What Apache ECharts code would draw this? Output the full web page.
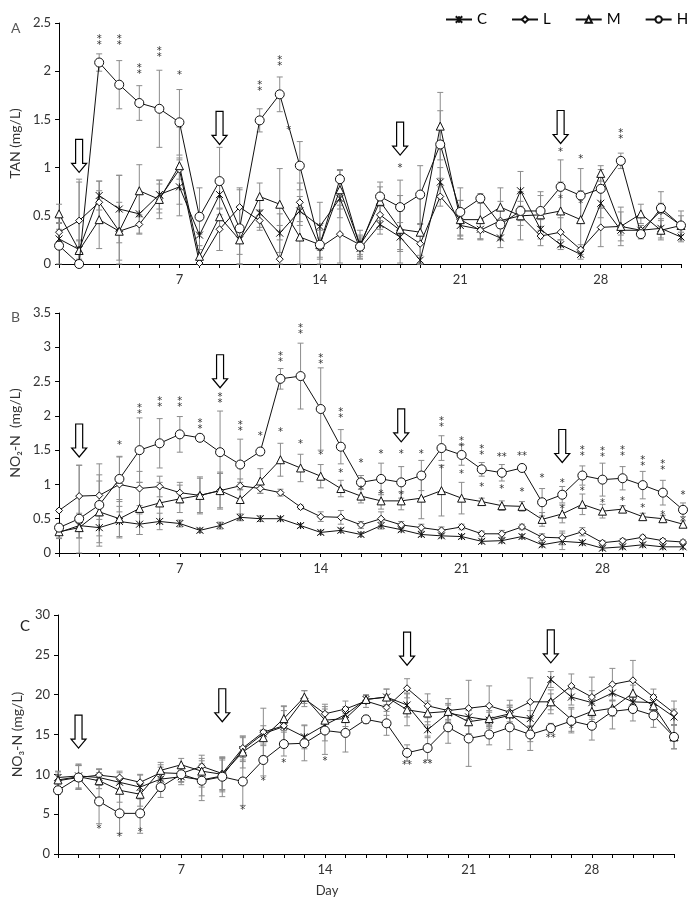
<!DOCTYPE html>
<html><head><meta charset="utf-8">
<script src="https://cdn.jsdelivr.net/npm/echarts@6/dist/echarts.min.js"></script>
<style>html,body{margin:0;padding:0;background:#fff}#c{width:690px;height:900px}</style>
</head><body><div id="c"></div>
<script>
// ---------- categories / tick labels ----------
const daysAB = ['1','2','3','4','5','6','7','8','9','10','11','12','13','14','15','16','17','18','19','20','21','22','23','24','25','26','27','28','29','30','31','32'];
const daysC  = ['1','2','3','4','5','6','7','8','9','10','11','12','13','14','15','16','17','18','19','20','21','23','24','25','26','27','28','29','30','31','32'];
const tickLabels = ['7','14','21','28'];
const seriesNames = ['C','L','M','H'];

// ---------- Panel A: TAN (mg/L) ----------
const tanC = [0.26,0.15,0.71,0.57,0.52,0.72,0.80,0.30,0.72,0.25,0.53,0.32,0.55,0.39,0.68,0.16,0.41,0.28,0.04,0.85,0.40,0.36,0.27,0.76,0.36,0.20,0.10,0.63,0.35,0.35,0.37,0.28];
const tanL = [0.33,0.45,0.64,0.34,0.41,0.68,0.98,0.01,0.36,0.59,0.45,0.05,0.64,0.17,0.31,0.20,0.51,0.35,0.21,0.70,0.46,0.35,0.45,0.50,0.29,0.33,0.15,0.38,0.39,0.35,0.55,0.40];
const tanM = [0.52,0.14,0.46,0.34,0.76,0.67,1.02,0.08,0.49,0.25,0.70,0.62,0.28,0.20,0.77,0.20,0.65,0.36,0.33,1.43,0.46,0.46,0.59,0.50,0.51,0.55,0.46,0.94,0.39,0.52,0.35,0.40];
const tanH = [0.19,0.00,2.09,1.86,1.67,1.61,1.47,0.49,0.86,0.37,1.49,1.76,1.02,0.20,0.88,0.18,0.70,0.59,0.72,1.24,0.54,0.68,0.41,0.55,0.55,0.80,0.71,0.78,1.07,0.31,0.58,0.40];
const tanCerr = [0.10,0.10,0.15,0.35,0.20,0.15,0.30,0.15,0.15,0.15,0.15,0.20,0.15,0.25,0.20,0.10,0.10,0.15,0.05,0.15,0.10,0.10,0.10,0.20,0.10,0.05,0.05,0.15,0.05,0.05,0.10,0.05];
const tanLerr = [0.10,0.43,0.22,0.30,0.10,0.15,0.10,0.30,0.22,0.20,0.10,0.35,0.20,0.10,0.30,0.15,0.15,0.20,0.20,0.10,0.20,0.10,0.20,0.10,0.10,0.15,0.05,0.20,0.20,0.05,0.20,0.10];
const tanMerr = [0.10,0.10,0.30,0.58,0.27,0.20,0.40,0.40,0.35,0.35,0.14,0.37,0.30,0.15,0.20,0.10,0.20,0.35,0.40,0.35,0.20,0.20,0.20,0.25,0.20,0.30,0.30,0.08,0.15,0.10,0.10,0.15];
const tanHerr = [0.30,0.85,0.09,0.25,0.18,0.40,0.34,0.30,0.35,0.40,0.12,0.18,0.25,0.20,0.10,0.10,0.10,0.28,0.30,0.35,0.25,0.05,0.15,0.10,0.20,0.28,0.28,0.20,0.08,0.05,0.05,0.03];
// asterisks: [day, value, kind] kind 1 = '*', 2 = stacked '**', 3 = side-by-side '**'
const tanStars = [[3,2.32,2],[4,2.32,2],[5,2.02,2],[6,2.2,2],[7,1.98,1],[11,1.85,2],[12,2.11,2],[12.45,1.41,1],[18,1.02,1],[26,1.18,1],[26,0.70,1],[27,1.11,1],[27,0.64,1],[29,1.35,2]];
const tanArrows = [[2,0.95],[9,1.24],[18,1.13],[26,1.25]];

// ---------- Panel B: NO2-N (mg/L) ----------
const no2C = [0.30,0.40,0.37,0.46,0.42,0.46,0.43,0.33,0.40,0.52,0.50,0.50,0.40,0.30,0.33,0.27,0.40,0.34,0.27,0.25,0.24,0.17,0.18,0.24,0.12,0.17,0.15,0.07,0.09,0.12,0.09,0.09];
const no2L = [0.62,0.83,0.84,1.00,0.94,0.97,0.88,0.84,0.91,0.98,0.94,0.88,0.67,0.53,0.52,0.41,0.50,0.41,0.37,0.33,0.38,0.28,0.28,0.38,0.23,0.22,0.31,0.15,0.18,0.23,0.18,0.16];
const no2M = [0.31,0.37,0.60,0.50,0.65,0.73,0.79,0.84,0.91,0.78,1.05,1.36,1.24,1.12,0.94,0.83,0.76,0.76,0.80,0.91,0.80,0.75,0.69,0.68,0.49,0.57,0.71,0.61,0.64,0.53,0.50,0.42];
const no2H = [0.37,0.50,0.70,1.08,1.50,1.60,1.73,1.68,1.47,1.29,1.48,2.54,2.58,2.10,1.55,1.03,1.08,1.03,1.13,1.53,1.43,1.22,1.17,1.24,0.74,0.85,1.13,1.07,1.09,0.99,0.88,0.63];
const no2Cerr = [0.08,0.18,0.12,0.22,0.15,0.12,0.05,0.03,0.05,0.05,0.04,0.03,0.03,0.03,0.03,0.03,0.05,0.03,0.03,0.03,0.03,0.03,0.03,0.03,0.03,0.12,0.03,0.03,0.03,0.03,0.03,0.03];
const no2Lerr = [0.02,0.45,0.30,0.40,0.25,0.15,0.15,0.27,0.25,0.05,0.07,0.05,0.03,0.07,0.10,0.05,0.10,0.05,0.05,0.05,0.04,0.04,0.05,0.04,0.05,0.10,0.06,0.03,0.03,0.03,0.03,0.03];
const no2Merr = [0.10,0.15,0.45,0.28,0.38,0.30,0.20,0.25,0.27,0.30,0.18,0.24,0.20,0.17,0.12,0.10,0.12,0.13,0.30,0.37,0.23,0.05,0.07,0.07,0.10,0.13,0.15,0.10,0.05,0.05,0.05,0.05];
const no2Herr = [0.05,0.78,0.60,0.33,0.47,0.36,0.26,0.05,0.60,0.37,0.05,0.15,0.48,0.60,0.25,0.10,0.23,0.23,0.22,0.18,0.15,0.10,0.12,0.05,0.20,0.12,0.14,0.24,0.17,0.20,0.18,0.10];
const no2Stars = [[4,1.6,1],[5,2.1,2],[6,2.2,2],[7,2.2,2],[8,1.88,2],[9,2.26,2],[10,1.85,2],[11,1.74,1],[12,2.86,2],[12,1.79,1],[13,3.27,2],[13,1.62,1],[14,2.83,2],[14,1.46,1],[15,2.05,2],[15,1.2,1],[16,1.34,1],[16,0.95,1],[17,1.47,1],[17,0.89,1],[18,1.47,1],[18,0.87,1],[19,1.48,1],[20,1.91,2],[20,1.25,1],[21,1.62,2],[21,1.18,1],[22,1.51,2],[22,0.99,1],[23,1.43,3],[23,0.96,1],[24,1.45,3],[24,0.92,1],[25,1.12,1],[26,1.05,1],[26,0.67,1],[27,1.49,2],[27,0.94,1],[28,1.47,2],[28,0.76,1],[29,1.49,2],[29,0.79,1],[30,1.34,2],[30,0.69,1],[31,1.29,2],[31,0.59,1],[32,0.87,1],[32,0.5,1]];
const no2Arrows = [[2,1.40],[9,2.41],[18,1.62],[26,1.32]];

// ---------- Panel C: NO3-N (mg/L) ----------
const no3C = [9.6,9.8,9.6,9.0,8.4,9.4,9.7,9.3,9.8,13.1,15.1,16.0,14.7,16.2,17.5,19.4,19.7,18.7,15.6,17.7,17.2,16.8,17.4,17.0,21.9,19.7,19.0,20.2,19.1,19.0,17.2];
const no3L = [9.2,9.6,9.9,9.6,9.0,10.2,10.1,11.0,10.1,13.3,15.3,16.1,19.5,17.6,18.2,19.2,18.4,20.8,18.6,18.0,18.3,18.6,17.8,19.1,19.1,21.1,19.7,21.3,21.8,19.7,17.7];
const no3M = [9.3,9.7,9.2,8.0,7.5,10.5,11.2,10.4,10.0,12.8,14.6,17.0,19.7,16.8,17.0,19.4,19.7,18.1,17.7,17.9,16.6,17.0,17.6,15.6,19.1,16.9,17.9,18.3,20.2,18.6,14.7];
const no3H = [8.0,9.6,6.6,5.1,5.1,8.4,10.0,9.2,9.7,9.1,11.8,13.8,13.9,15.5,15.2,16.9,16.4,12.7,13.3,15.9,14.5,15.0,15.9,15.0,15.8,16.7,16.1,17.9,18.2,17.4,14.7];
const no3Cerr = [0.8,1.5,1.0,1.2,1.5,1.5,1.0,2.0,2.0,1.5,1.0,2.0,1.5,2.0,1.0,0.5,1.0,1.5,1.0,1.0,1.0,1.0,1.0,1.0,1.0,1.0,1.5,1.0,1.0,1.0,1.0];
const no3Lerr = [0.8,1.5,0.8,0.8,1.0,1.0,1.0,1.0,2.0,1.5,3.0,2.5,1.0,1.2,1.0,0.8,1.0,1.2,1.5,1.5,3.5,2.5,1.5,3.0,1.5,1.5,2.5,2.0,2.5,1.0,1.5];
const no3Merr = [1.0,1.5,1.0,1.5,1.5,1.0,0.8,2.0,2.0,2.0,1.0,1.5,0.8,1.0,1.0,0.5,1.0,2.0,1.5,1.0,1.5,1.0,1.0,1.5,1.0,1.5,1.0,1.0,1.0,1.0,1.5];
const no3Herr = [0.5,1.5,2.8,2.5,2.5,1.3,1.0,2.5,2.5,3.0,2.0,1.5,2.2,3.0,2.4,0.5,1.5,1.0,1.5,2.0,3.5,1.3,2.8,2.0,0.6,1.5,1.8,2.2,1.5,1.5,1.5];
const no3Stars = [[3,3.4,1],[4,2.4,1],[5,3.0,1],[10,5.8,1],[11,9.4,1],[12,11.7,1],[14,11.9,1],[18,11.4,3],[19,11.6,3],[26,14.8,3],[27,16.0,1]];
const no3Arrows = [[2,13.3],[9,16.6],[18,23.7],[26,24.0]];

// ---------- rendering ----------
const FONT = 'Lato';
const SYM = { C: 'path://M0,0L10,10M10,0L0,10M5,0L5,10', L: 'diamond', M: 'triangle', H: 'circle' };
const SIZE = { C: 7, L: 7, M: 8, H: 9 };

function pos(cats, d) { const i = cats.indexOf(String(d)); return i >= 0 ? i + 1 : d; }

function errItem(params, api) {
  const x = api.value(0), lo = api.value(1), hi = api.value(2);
  const p1 = api.coord([x, lo]), p2 = api.coord([x, hi]);
  const cw = 3, st = { stroke: '#8c8c8c', lineWidth: 1 };
  return { type: 'group', children: [
    { type: 'line', shape: { x1: p1[0], y1: p1[1], x2: p2[0], y2: p2[1] }, style: st },
    { type: 'line', shape: { x1: p1[0] - cw, y1: p1[1], x2: p1[0] + cw, y2: p1[1] }, style: st },
    { type: 'line', shape: { x1: p2[0] - cw, y1: p2[1], x2: p2[0] + cw, y2: p2[1] }, style: st }
  ]};
}
function starItem(params, api) {
  const p = api.coord([api.value(0), api.value(1)]);
  const k = api.value(2);
  const text = k === 2 ? '*\n*' : (k === 3 ? '**' : '*');
  return { type: 'text', x: p[0], y: p[1] + 2.5, style: { text: text, fill: '#333', font: '10px "DejaVu Sans"', align: 'center', verticalAlign: 'middle', lineHeight: 6 } };
}
function arrowItem(params, api) {
  const p = api.coord([api.value(0), api.value(1)]);
  const x = p[0], y = p[1], w = 3.5, hw = 7.5, hh = 9, H = 33;
  return { type: 'polygon', shape: { points: [[x - w, y - H], [x + w, y - H], [x + w, y - hh], [x + hw, y - hh], [x, y], [x - hw, y - hh], [x - w, y - hh]] },
    style: { fill: '#fff', stroke: '#000', lineWidth: 1.2 } };
}

const panels = [
  { cats: daysAB, vals: { C: tanC, L: tanL, M: tanM, H: tanH }, errs: { C: tanCerr, L: tanLerr, M: tanMerr, H: tanHerr }, stars: tanStars, arrows: tanArrows,
    grid: { left: 58, right: 9, top: 23, height: 241 }, y: { max: 2.5, interval: 0.5, name: 'TAN (mg/L)', gap: 36 } },
  { cats: daysAB, vals: { C: no2C, L: no2L, M: no2M, H: no2H }, errs: { C: no2Cerr, L: no2Lerr, M: no2Merr, H: no2Herr }, stars: no2Stars, arrows: no2Arrows,
    grid: { left: 58, right: 7, top: 313, height: 240 }, y: { max: 3.5, interval: 0.5, name: 'NO₂-N  (mg/L)', gap: 35 } },
  { cats: daysC, vals: { C: no3C, L: no3L, M: no3M, H: no3H }, errs: { C: no3Cerr, L: no3Lerr, M: no3Merr, H: no3Herr }, stars: no3Stars, arrows: no3Arrows,
    grid: { left: 58, right: 16, top: 615, height: 239 }, y: { max: 30, interval: 5, name: 'NO₃-N (mg/L)', gap: 30 } }
];

const grids = [], xAxes = [], yAxes = [], series = [];
panels.forEach((P, gi) => {
  grids.push(P.grid);
  const n = P.cats.length;
  xAxes.push({
    type: 'value', gridIndex: gi, min: 1, max: n, interval: 1,
    axisLine: { lineStyle: { color: '#000', width: 1 } },
    axisTick: { show: true, length: 4, lineStyle: { color: '#000' } },
    splitLine: { show: false },
    axisLabel: { color: '#333', fontSize: 13, fontFamily: FONT, margin: 9, showMinLabel: true, showMaxLabel: true,
      formatter: v => { const c = P.cats[v - 1]; return tickLabels.includes(c) ? c : ''; } },
    name: gi === 2 ? 'Day' : '', nameLocation: 'middle', nameGap: 30,
    nameTextStyle: { color: '#333', fontSize: 13, fontFamily: FONT, padding: [0, 78, 0, 0] }
  });
  yAxes.push({
    type: 'value', gridIndex: gi, min: 0, max: P.y.max, interval: P.y.interval,
    axisLine: { show: true, lineStyle: { color: '#000', width: 1 } },
    axisTick: { show: true, length: 4, lineStyle: { color: '#000' } },
    splitLine: { show: false },
    axisLabel: { color: '#333', fontSize: 13, fontFamily: FONT, margin: 8 },
    name: P.y.name, nameLocation: 'middle', nameRotate: 90, nameGap: P.y.gap,
    nameTextStyle: { color: '#333', fontSize: 14, fontFamily: FONT }
  });
  // error bars
  const errData = [];
  seriesNames.forEach(s => {
    P.vals[s].forEach((v, i) => errData.push([i + 1, Math.max(0, v - P.errs[s][i]), v + P.errs[s][i]]));
  });
  series.push({ type: 'custom', xAxisIndex: gi, yAxisIndex: gi, renderItem: errItem, data: errData,
    encode: { x: 0, y: [1, 2] }, z: 1, silent: true, clip: false });
  // lines
  seriesNames.forEach(s => {
    series.push({
      name: s, type: 'line', xAxisIndex: gi, yAxisIndex: gi,
      data: P.vals[s].map((v, i) => [i + 1, v]),
      symbol: SYM[s], symbolSize: SIZE[s], showAllSymbol: true,
      lineStyle: { color: '#111', width: 1 },
      itemStyle: { color: '#fff', borderColor: '#111', borderWidth: 1 },
      z: s === 'H' ? 5 : 3, clip: false
    });
  });
  // asterisks
  series.push({ type: 'custom', xAxisIndex: gi, yAxisIndex: gi, renderItem: starItem,
    data: P.stars.map(a => [pos(P.cats, a[0]), a[1], a[2]]), encode: { x: 0, y: 1 }, z: 6, silent: true, clip: false });
  // feeding arrows
  series.push({ type: 'custom', xAxisIndex: gi, yAxisIndex: gi, renderItem: arrowItem,
    data: P.arrows.map(a => [pos(P.cats, a[0]), a[1]]), encode: { x: 0, y: 1 }, z: 6, silent: true, clip: false });
});

const chart = echarts.init(document.getElementById('c'), null, { renderer: 'canvas' });
chart.setOption({
  animation: false,
  backgroundColor: '#fff',
  title: [
    { text: 'A', left: 6, top: 16, textStyle: { fontSize: 14, fontWeight: 'normal', color: '#595959', fontFamily: FONT } },
    { text: 'B', left: 6, top: 305, textStyle: { fontSize: 14, fontWeight: 'normal', color: '#595959', fontFamily: FONT } },
    { text: 'C', left: 15, top: 614, textStyle: { fontSize: 15, fontWeight: 'normal', color: '#222', fontFamily: FONT } }
  ],
  legend: { data: seriesNames, left: 440, top: 7, width: 250, itemWidth: 26, itemHeight: 8, itemGap: 24,
    textStyle: { fontSize: 15, color: '#000', fontFamily: FONT } },
  grid: grids, xAxis: xAxes, yAxis: yAxes, series: series
});
</script></body></html>
